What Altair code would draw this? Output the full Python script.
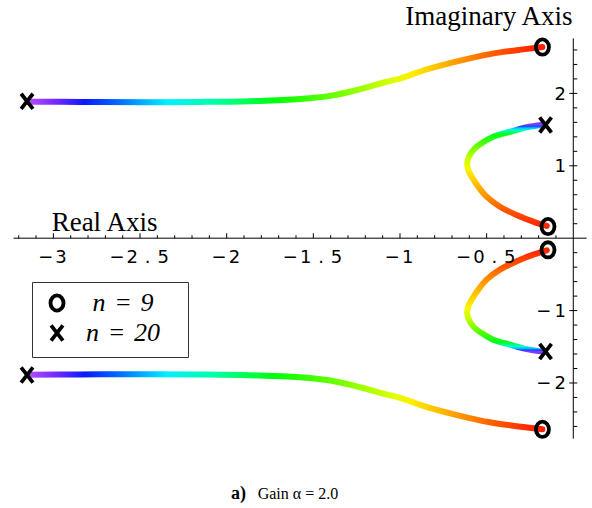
import altair as alt
import pandas as pd

# ---------------------------------------------------------------- data
# Root-locus branches, real and imaginary parts, ordered pole -> zero.
# Outer branches start at the far-left poles and end at the upper/lower zeros.
outer_re = [-3.147, -2.962, -2.732, -2.443, -2.155, -1.866, -1.577, -1.387,
            -1.289, -1.191, -1.098, -1.000, -0.867, -0.671, -0.481, -0.290, -0.178]
outer_im_upper = [1.885, 1.883, 1.880, 1.878, 1.882, 1.893, 1.922, 1.973,
                  2.023, 2.083, 2.147, 2.205, 2.316, 2.443, 2.543, 2.608, 2.640]
outer_im_lower = [-1.885, -1.883, -1.880, -1.878, -1.882, -1.893, -1.922, -1.973,
                  -2.023, -2.083, -2.147, -2.205, -2.316, -2.443, -2.543, -2.608, -2.640]

# Inner branches bend out to Re ~ -0.61 and come back to the zeros near the axis.
inner_re = [-0.182, -0.269, -0.365, -0.462, -0.529, -0.577, -0.606, -0.612,
            -0.606, -0.586, -0.548, -0.500, -0.423, -0.327, -0.231, -0.153]
inner_im_upper = [1.564, 1.532, 1.470, 1.402, 1.311, 1.218, 1.104, 1.035,
                  0.942, 0.849, 0.711, 0.573, 0.435, 0.320, 0.228, 0.169]
inner_im_lower = [-1.564, -1.532, -1.470, -1.402, -1.311, -1.218, -1.104, -1.035,
                  -0.942, -0.849, -0.711, -0.573, -0.435, -0.320, -0.228, -0.169]

# Poles (x) and zeros (o)
pole_re = [-3.152, -3.152, -0.160, -0.160]
pole_im = [1.890, -1.890, 1.565, -1.565]
zero_re = [-0.178, -0.178, -0.146, -0.146]
zero_im = [2.640, -2.640, 0.161, -0.161]

# legend entries; the zero-width spaces keep the padding spaces from being trimmed
legend_labels = ["\u200b\u2005n\u2004=\u20049\u2002\u2005\u200b",
                 "\u200bn\u2004=\u200420\u2002\u2005\u200b"]

# Axes
x_tick_values = [-3, -2.5, -2, -1.5, -1, -0.5]
x_tick_labels = ["\u22123", "\u22122.5", "\u22122", "\u22121.5", "\u22121", "\u22120.5"]
y_tick_values = [2, 1, -1, -2]
y_tick_labels = ["2", "1", "\u22121", "\u22122"]
x_minor = [round(-3.2 + 0.1 * i, 1) for i in range(32)]
x_minor = [v for v in x_minor if v not in x_tick_values]
y_minor = [round(-2.6 + 0.2 * i, 1) for i in range(27)]
y_minor = [v for v in y_minor if v != 0 and v not in y_tick_values]
x_axis_extent = [-3.23, 0.077]
y_axis_extent = [-2.77, 2.76]

# ------------------------------------------------------------- layout
W, H = 592, 508
X_DOMAIN = [-3.308, 0.108]
Y_DOMAIN = [-3.727, 3.290]
PX_PER_X = W / (X_DOMAIN[1] - X_DOMAIN[0])

xs = alt.Scale(domain=X_DOMAIN, nice=False, zero=False)
ys = alt.Scale(domain=Y_DOMAIN, nice=False, zero=False)


def X(field):
    return alt.X(field, type="quantitative", scale=xs, axis=None)


def Y(field):
    return alt.Y(field, type="quantitative", scale=ys, axis=None)


def gradient(stops, vertical=False, reverse=False):
    if reverse:
        stops = [(1 - o, c) for o, c in reversed(stops)]
    return {"gradient": "linear", "x1": 0, "y1": 0,
            "x2": 0 if vertical else 1, "y2": 1 if vertical else 0,
            "stops": [{"offset": o, "color": c} for o, c in stops]}


# hue runs from violet at the poles to red at the zeros
outer_stops = [(0.0, "#b84dff"), (0.05, "#7a2cff"), (0.11, "#0a18ff"), (0.18, "#0070ff"),
               (0.27, "#00f0ff"), (0.36, "#00ffa8"), (0.48, "#00ff08"), (0.59, "#66ff00"),
               (0.71, "#ddff00"), (0.745, "#ffee00"), (0.78, "#ffd000"), (0.835, "#ff9a00"),
               (0.90, "#ff6000"), (0.97, "#ff2c00"), (1.0, "#ff2000")]
inner_stops = [(0.0, "#7b3cff"), (0.012, "#2040ff"), (0.03, "#00c0ff"), (0.05, "#00ffd0"),
               (0.09, "#00ff20"), (0.20, "#60ff00"), (0.33, "#c8ff00"), (0.43, "#f8f800"),
               (0.55, "#ffcc00"), (0.70, "#ff9400"), (0.85, "#ff5400"), (1.0, "#ff2400")]

n_out = len(outer_re)
outer_df = pd.DataFrame({
    "re": outer_re + outer_re,
    "im": outer_im_upper + outer_im_lower,
    "branch": ["upper"] * n_out + ["lower"] * n_out,
    "step": list(range(n_out)) * 2,
})
inner_up_df = pd.DataFrame({"re": inner_re, "im": inner_im_upper, "step": range(len(inner_re))})
inner_lo_df = pd.DataFrame({"re": inner_re, "im": inner_im_lower, "step": range(len(inner_re))})

line_style = dict(strokeWidth=6, strokeCap="round", strokeJoin="round")

outer_lines = alt.Chart(outer_df).mark_line(
    interpolate="monotone", stroke=gradient(outer_stops), **line_style
).encode(x=X("re"), y=Y("im"), detail="branch:N", order="step:Q")

inner_upper = alt.Chart(inner_up_df).mark_line(
    interpolate="catmull-rom", stroke=gradient(inner_stops, vertical=True), **line_style
).encode(x=X("re"), y=Y("im"), order="step:Q")

inner_lower = alt.Chart(inner_lo_df).mark_line(
    interpolate="catmull-rom", stroke=gradient(inner_stops, vertical=True, reverse=True), **line_style
).encode(x=X("re"), y=Y("im"), order="step:Q")

# --------------------------------------------------------- markers
O_PATH = "M0,-1A0.86,1,0,1,1,0,1A0.86,1,0,1,1,0,-1Z"
X_PATH = "M-0.78,-1L0.78,1M-0.78,1L0.78,-1"
MARK_SIZE = 230
marker_df = pd.DataFrame({
    "re": zero_re + pole_re,
    "im": zero_im + pole_im,
    "n": [legend_labels[0]] * len(zero_re) + [legend_labels[1]] * len(pole_re),
})
markers = alt.Chart(marker_df).mark_point(
    filled=False, color="black", strokeWidth=3.8, size=MARK_SIZE, opacity=1
).encode(
    x=X("re"), y=Y("im"),
    shape=alt.Shape("n:N", scale=alt.Scale(domain=legend_labels, range=[O_PATH, X_PATH]),
                    legend=alt.Legend(
                        orient="none", legendX=32, legendY=282, title=None,
                        padding=8, strokeColor="#333333", fillColor="white",
                        cornerRadius=0, labelFont="Liberation Serif",
                        labelFontStyle="italic", labelFontSize=26, labelColor="black",
                        symbolSize=MARK_SIZE, symbolStrokeWidth=3.8, symbolStrokeColor="black",
                        symbolFillColor="transparent", symbolOffset=4, labelOffset=16,
                        rowPadding=-2, labelLimit=300)),
)

# ------------------------------------------------------------- axes
axis_df = pd.DataFrame({
    "x": [x_axis_extent[0], 0], "x2": [x_axis_extent[1], 0],
    "y": [0, y_axis_extent[0]], "y2": [0, y_axis_extent[1]],
})
axis_lines = alt.Chart(axis_df).mark_rule(color="black", strokeWidth=1).encode(
    x=X("x"), x2="x2:Q", y=Y("y"), y2="y2:Q")

x_major_ticks = alt.Chart(pd.DataFrame({"v": x_tick_values})).mark_tick(
    orient="vertical", size=5, thickness=1, yOffset=-2.5, color="black", opacity=1
).encode(x=X("v"), y=alt.datum(0, scale=ys, axis=None))
x_minor_ticks = alt.Chart(pd.DataFrame({"v": x_minor})).mark_tick(
    orient="vertical", size=3, thickness=1, yOffset=-1.5, color="black", opacity=1
).encode(x=X("v"), y=alt.datum(0, scale=ys, axis=None))
y_major_ticks = alt.Chart(pd.DataFrame({"v": y_tick_values})).mark_tick(
    orient="horizontal", size=8, thickness=1, xOffset=0, color="black", opacity=1
).encode(y=Y("v"), x=alt.datum(0, scale=xs, axis=None))
y_minor_ticks = alt.Chart(pd.DataFrame({"v": y_minor})).mark_tick(
    orient="horizontal", size=4, thickness=1, xOffset=2, color="black", opacity=1
).encode(y=Y("v"), x=alt.datum(0, scale=xs, axis=None))

# tick labels are set one character per cell, like a spaced monospace face
X_CHAR_STEP = 15.4 / PX_PER_X
Y_CHAR_STEP = 16.5 / PX_PER_X
Y_LABEL_RIGHT = -13.0 / PX_PER_X

x_chars = []
for lab, v in zip(x_tick_labels, x_tick_values):
    n = len(lab)
    for i, ch in enumerate(lab):
        x_chars.append({"ch": ch, "re": v + (i - (n - 1) / 2) * X_CHAR_STEP})
y_chars = []
for lab, v in zip(y_tick_labels, y_tick_values):
    n = len(lab)
    for i, ch in enumerate(lab):
        y_chars.append({"ch": ch, "re": Y_LABEL_RIGHT + (i - (n - 1)) * Y_CHAR_STEP, "im": v})

tick_font = dict(font="DejaVu Sans", fontSize=18, color="black", align="center",
                 baseline="alphabetic")
x_labels = alt.Chart(pd.DataFrame(x_chars)).mark_text(dy=24.5, **tick_font).encode(
    x=X("re"), y=alt.datum(0, scale=ys, axis=None), text="ch:N")
y_labels = alt.Chart(pd.DataFrame(y_chars)).mark_text(dy=6.5, **tick_font).encode(
    x=X("re"), y=Y("im"), text="ch:N")

title_font = dict(font="Liberation Serif", fontSize=27, color="black", baseline="alphabetic")
real_title = alt.Chart(pd.DataFrame({"t": ["Real Axis"], "re": [-3.01], "im": [0.10]})).mark_text(
    align="left", **title_font).encode(x=X("re"), y=Y("im"), text="t:N")
imag_title = alt.Chart(pd.DataFrame({"t": ["Imaginary Axis"], "re": [-0.005], "im": [2.945]})).mark_text(
    align="right", **title_font).encode(x=X("re"), y=Y("im"), text="t:N")

# ---------------------------------------------------------- caption
cap_a = alt.Chart(pd.DataFrame({"t": ["a)"], "re": [-1.975], "im": [-3.602]})).mark_text(
    align="left", baseline="alphabetic", font="Liberation Serif", fontSize=18,
    fontWeight="bold", color="black").encode(x=X("re"), y=Y("im"), text="t:N")
cap_b = alt.Chart(pd.DataFrame({"t": ["Gain \u03b1 = 2.0"], "re": [-1.821], "im": [-3.602]})).mark_text(
    align="left", baseline="alphabetic", font="Liberation Serif", fontSize=16,
    color="black").encode(x=X("re"), y=Y("im"), text="t:N")

chart = alt.layer(
    axis_lines, x_major_ticks, x_minor_ticks, y_major_ticks, y_minor_ticks,
    outer_lines, inner_upper, inner_lower, markers,
    x_labels, y_labels, real_title, imag_title, cap_a, cap_b,
).properties(
    width=W, height=H, padding=0, autosize=alt.AutoSizeParams(type="none"),
    background="white",
).configure_view(stroke=None)

chart.save("out.html", embed_options={"renderer": "svg", "actions": False})
